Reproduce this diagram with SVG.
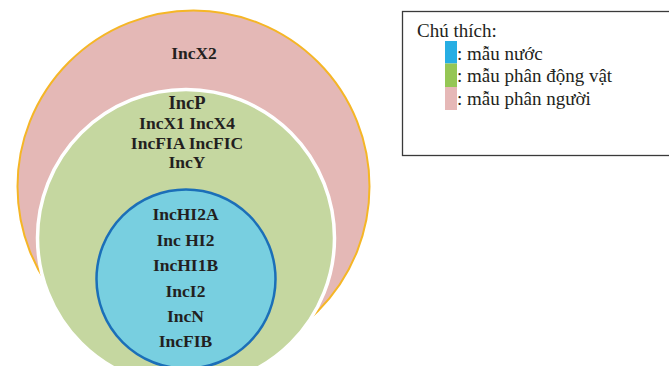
<svg xmlns="http://www.w3.org/2000/svg" width="669" height="366" viewBox="0 0 669 366">
<style>
.lbl{font-family:"Liberation Serif","Times New Roman",serif;font-weight:bold;font-size:17.5px;fill:#231f20;text-anchor:middle}
.leg{font-family:"Liberation Serif","Times New Roman",serif;font-size:19px;fill:#231f20}
</style>
<rect width="669" height="366" fill="#ffffff"/>
<g id="human">
<circle cx="193.5" cy="186.5" r="176" fill="#e4b8b6" stroke="#f5b626" stroke-width="2"/>
<text class="lbl" x="194" y="59">IncX2</text>
</g>
<g id="animal">
<circle cx="186" cy="238" r="148.5" fill="#c5d7a0" stroke="#ffffff" stroke-width="3.5"/>
<text class="lbl" x="187" y="109" style="font-size:18.5px">IncP</text>
<text class="lbl" x="187" y="129">IncX1 IncX4</text>
<text class="lbl" x="187" y="149">IncFIA IncFIC</text>
<text class="lbl" x="187" y="168">IncY</text>
</g>
<g id="water">
<circle cx="186" cy="279" r="89.5" fill="#78cfe0" stroke="#1b6fb8" stroke-width="2.5"/>
<text class="lbl" x="185.5" y="220">IncHI2A</text>
<text class="lbl" x="185.5" y="245.5">Inc HI2</text>
<text class="lbl" x="185.5" y="271">IncHI1B</text>
<text class="lbl" x="185.5" y="296.5">IncI2</text>
<text class="lbl" x="185.5" y="322">IncN</text>
<text class="lbl" x="185.5" y="347">IncFIB</text>
</g>
<g id="connectors"></g>
<g id="legend">
<rect x="402.5" y="11.5" width="275" height="144" fill="#ffffff" stroke="#3a3a3a" stroke-width="1.3"/>
<text class="leg" x="417" y="37">Chú thích:</text>
<rect x="445" y="41" width="12" height="22.5" fill="#27aee3"/>
<rect x="445" y="63.5" width="12" height="23.5" fill="#95c655"/>
<rect x="445" y="87" width="12" height="23" fill="#e6b8b7"/>
<text class="leg" x="457" y="60">: mẫu nước</text>
<text class="leg" x="457" y="82">: mẫu phân động vật</text>
<text class="leg" x="457" y="105">: mẫu phân người</text>
</g>
</svg>
